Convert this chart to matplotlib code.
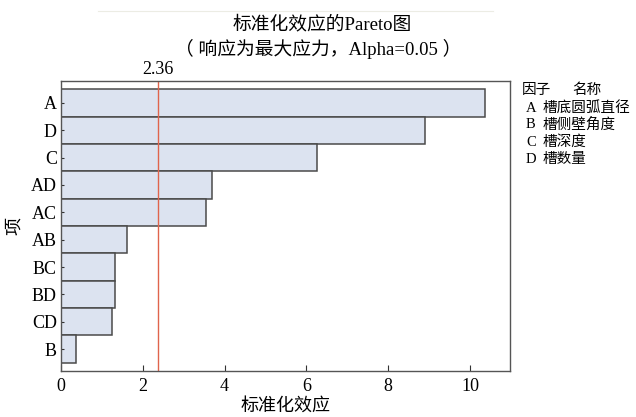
import matplotlib
matplotlib.use('Agg')
import matplotlib.pyplot as plt
from matplotlib.lines import Line2D

plt.rcParams['font.family'] = ['Liberation Serif', 'Noto Sans CJK SC']

terms = ['A', 'D', 'C', 'AD', 'AC', 'AB', 'BC', 'BD', 'CD', 'B']
effects = [10.37, 8.90, 6.26, 3.69, 3.55, 1.61, 1.32, 1.33, 1.25, 0.36]
critical = 2.36
factors = ['A', 'B', 'C', 'D']
factor_names = ['槽底圆弧直径', '槽侧壁角度', '槽深度', '槽数量']

fig = plt.figure(figsize=(6.36, 4.17), dpi=100)
ax = fig.add_axes([61/636, 1-371/417, 449/636, 290/417])

pos = list(range(len(terms)))
ax.barh(pos, effects, height=1.0, color='#dce3f0', edgecolor='#4a4a4a', linewidth=1.1)
ax.axvline(critical, color='#e0644c', lw=1.0)

ax.set_ylim(len(terms) - 0.2, -0.8)
ax.set_xlim(0, 10.98)
ax.set_yticks(pos)
ax.set_yticklabels(terms)
ax.set_xticks([0, 2, 4, 6, 8, 10])
ax.tick_params(axis='both', direction='in', labelsize=13, length=4, color='#333333')
ax.tick_params(axis='x', pad=5)
ax.tick_params(axis='y', length=2, pad=3)
for sp in ax.spines.values():
    sp.set_color('#555555')
    sp.set_linewidth(1.0)

ax.set_xlabel('标准化效应', fontsize=13, labelpad=2)
fig.text(14/636, 0.5 * (1-371/417 + 1-81/417), '项', fontsize=13, rotation=90,
         ha='center', va='center')

ax.text(critical, 1.012, '%.2f' % critical, transform=ax.get_xaxis_transform(),
        ha='center', va='bottom', fontsize=13)

fig.text(322/636, 1-24/417, '标准化效应的Pareto图', ha='center', va='center', fontsize=13.5)
fig.text(318/636, 1-49/417, '（ 响应为最大应力，Alpha=0.05 ）', ha='center', va='center', fontsize=13.5)
fig.add_artist(Line2D([98/636, 493/636], [1-11/417, 1-11/417], color='#ecece4', lw=0.8))

# factor key to the right of the plot
fig.text(522/636, 1-90/417, '因子', fontsize=10.5, va='center')
fig.text(572/636, 1-90/417, '名称', fontsize=10.5, va='center')
for i, (f, name) in enumerate(zip(factors, factor_names)):
    y = 1 - (108 + i*17)/417
    fig.text(526/636, y, f, fontsize=10.5, va='center')
    fig.text(543/636, y, name, fontsize=10.5, va='center')

fig.savefig('out.png', dpi=100)
